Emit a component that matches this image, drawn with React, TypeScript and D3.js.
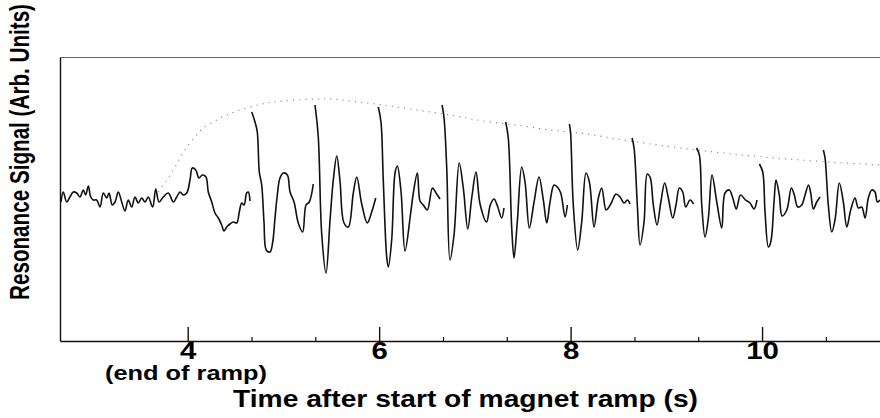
import React, { useEffect, useRef } from 'react';
import * as d3 from 'd3';

// time after start of magnet ramp (s) vs resonance signal (arb. units)
const timeDomain: [number, number] = [2.666, 11.232];
const signalDomain: [number, number] = [0, 284];

const majorTicks = [4, 6, 8, 10];
// small marks at each pulse (every 2/3 s)
const pulseTicks = [4.667, 5.333, 6.667, 7.333, 8.667, 9.333, 10.667];

// the trace is broken at every pulse, so it is kept as separate pieces
const signalSegments: [number, number][][] = [
  [[2.676,139],[2.700,149],[2.736,139],[2.770,144],[2.805,149],[2.840,148],[2.875,144],[2.909,151],[2.934,146],[2.962,155],[2.987,144],[3.014,141],[3.049,141],[3.084,134],[3.118,148],[3.154,143],[3.178,148],[3.212,136],[3.241,139],[3.275,149],[3.311,139],[3.345,130],[3.379,141],[3.415,134],[3.449,144],[3.484,138],[3.519,143],[3.554,139],[3.588,144],[3.634,134],[3.666,152],[3.700,139],[3.745,144],[3.797,148],[3.850,139],[3.885,144],[3.920,149],[3.954,146],[3.990,148],[4.024,161],[4.048,173],[4.084,171],[4.118,163],[4.153,166],[4.191,164],[4.215,149],[4.251,139],[4.285,128],[4.320,123],[4.355,116],[4.379,110],[4.407,114],[4.442,117],[4.476,119],[4.512,118],[4.539,129],[4.564,138],[4.588,136],[4.616,148],[4.633,149],[4.651,140]],
  [[4.669,229],[4.703,219],[4.727,209],[4.748,169],[4.773,156],[4.797,119],[4.821,91],[4.860,89],[4.888,99],[4.912,123],[4.936,146],[4.964,163],[4.999,168],[5.041,166],[5.069,149],[5.111,139],[5.155,118],[5.201,109],[5.236,136],[5.270,139],[5.312,157]],
  [[5.330,236],[5.364,204],[5.400,107],[5.445,68],[5.487,121],[5.521,161],[5.557,185],[5.591,160],[5.633,118],[5.678,114],[5.730,148],[5.766,164],[5.818,137],[5.876,118],[5.922,129],[5.964,143]],
  [[5.991,234],[6.019,219],[6.043,161],[6.079,84],[6.096,74],[6.131,101],[6.166,168],[6.190,175],[6.228,150],[6.270,90],[6.328,127],[6.357,148],[6.399,168],[6.427,140],[6.461,136],[6.503,131],[6.557,153],[6.594,148],[6.636,142]],
  [[6.657,236],[6.678,223],[6.706,173],[6.740,81],[6.782,106],[6.836,178],[6.879,153],[6.926,112],[6.967,143],[7.012,169],[7.054,137],[7.122,119],[7.161,136],[7.200,142],[7.236,135],[7.280,123],[7.304,133]],
  [[7.322,219],[7.349,203],[7.385,113],[7.409,83],[7.443,119],[7.489,174],[7.524,159],[7.569,113],[7.618,139],[7.670,164],[7.715,141],[7.751,118],[7.785,139],[7.827,156],[7.861,154],[7.897,148],[7.942,124],[7.966,136]],
  [[7.987,217],[7.999,209],[8.028,136],[8.074,91],[8.116,119],[8.161,168],[8.196,159],[8.245,114],[8.290,143],[8.325,153],[8.370,131],[8.394,133],[8.430,139],[8.474,147],[8.516,144],[8.558,138],[8.593,141],[8.621,137]],
  [[8.642,203],[8.663,193],[8.697,136],[8.725,96],[8.767,119],[8.801,167],[8.830,164],[8.864,136],[8.903,116],[8.941,138],[8.983,158],[9.021,143],[9.067,123],[9.101,136],[9.136,153],[9.171,149],[9.203,134],[9.248,141],[9.284,137]],
  [[9.315,193],[9.345,186],[9.370,136],[9.404,104],[9.439,123],[9.477,166],[9.527,139],[9.579,113],[9.613,148],[9.658,151],[9.694,143],[9.731,132],[9.775,146],[9.827,141],[9.874,138],[9.916,132],[9.947,141]],
  [[9.972,177],[10.007,169],[10.031,129],[10.066,94],[10.091,99],[10.125,139],[10.146,161],[10.180,146],[10.209,125],[10.258,131],[10.306,153],[10.337,146],[10.373,134],[10.414,136],[10.449,146],[10.485,156],[10.508,148],[10.536,132],[10.571,139],[10.606,144]],
  [[10.640,191],[10.658,183],[10.692,136],[10.728,109],[10.762,121],[10.807,158],[10.849,139],[10.885,114],[10.926,131],[10.971,143],[11.006,133],[11.041,134],[11.076,123],[11.110,143],[11.146,151],[11.180,149],[11.204,139],[11.232,141]],
];

// dotted envelope through the pulse maxima
const envelope: [number, number][] = [
  [3.693,149],[3.773,160],[3.850,171],[3.920,183],[3.990,194],[4.076,204],[4.163,213],[4.285,220],[4.407,226],[4.616,233],[4.825,238],[4.999,240],[5.348,242],[5.521,242],[5.696,240],[6.043,236],[6.392,231],[6.740,226],[7.088,220],[7.437,216],[7.785,211],[8.098,208],[8.621,200],[9.318,191],[10.013,184],[10.710,179],[11.232,176],
];

const FONT = '"Liberation Sans", Arial, Helvetica, sans-serif';

export default function App() {
  const ref = useRef<SVGSVGElement>(null);

  useEffect(() => {
    const w = 880;
    const h = 418;
    const m = { left: 60, right: 0, top: 57, bottom: 77 };

    const svg = d3.select(ref.current);
    svg.selectAll('*').remove();

    const x = d3.scaleLinear().domain(timeDomain).range([m.left, w - m.right]);
    const y = d3.scaleLinear().domain(signalDomain).range([h - m.bottom, m.top]);

    // frame: grey top line, black left line
    svg.append('g')
      .attr('transform', `translate(0,${m.top})`)
      .call(d3.axisTop(x).tickValues([]).tickSizeOuter(0))
      .select('.domain')
      .attr('stroke', '#666')
      .attr('stroke-width', 1);

    svg.append('g')
      .attr('transform', `translate(${m.left},0)`)
      .call(d3.axisLeft(y).tickValues([]).tickSizeOuter(0))
      .select('.domain')
      .attr('stroke', '#111')
      .attr('stroke-width', 1.4);

    // bottom axis, ticks pointing inward
    const xAxis = svg.append('g')
      .attr('transform', `translate(0,${h - m.bottom})`)
      .call(
        d3.axisBottom(x)
          .tickValues(majorTicks)
          .tickSize(-14)
          .tickSizeOuter(0)
          .tickPadding(2)
          .tickFormat(d3.format('d'))
      );
    xAxis.select('.domain').attr('stroke', '#111').attr('stroke-width', 1.4);
    xAxis.selectAll('.tick line').attr('stroke', '#111').attr('stroke-width', 1.4);
    xAxis.selectAll('.tick text')
      .attr('fill', '#000')
      .attr('font-family', FONT)
      .attr('font-weight', 'bold')
      .attr('font-size', 23)
      .attr('transform', 'scale(1.28,1)');

    const pulseAxis = svg.append('g')
      .attr('transform', `translate(0,${h - m.bottom})`)
      .call(d3.axisBottom(x).tickValues(pulseTicks).tickSize(-4).tickSizeOuter(0).tickFormat(() => ''));
    pulseAxis.select('.domain').remove();
    pulseAxis.selectAll('.tick line').attr('stroke', '#111').attr('stroke-width', 1.2);

    const line = d3.line<[number, number]>()
      .x(d => x(d[0]))
      .y(d => y(d[1]))
      .curve(d3.curveCatmullRom.alpha(0.5));

    svg.append('path')
      .datum(envelope)
      .attr('d', line)
      .attr('fill', 'none')
      .attr('stroke', '#888')
      .attr('stroke-width', 1.1)
      .attr('stroke-dasharray', '1.2 5');

    svg.selectAll('path.seg')
      .data(signalSegments)
      .enter()
      .append('path')
      .attr('class', 'seg')
      .attr('d', d => line(d))
      .attr('fill', 'none')
      .attr('stroke', '#111')
      .attr('stroke-width', 1.6)
      .attr('stroke-linejoin', 'round');

    // labels
    svg.append('text')
      .attr('x', 186)
      .attr('y', 380)
      .attr('text-anchor', 'middle')
      .attr('font-family', FONT)
      .attr('font-weight', 'bold')
      .attr('font-size', 20)
      .attr('textLength', 162)
      .attr('lengthAdjust', 'spacingAndGlyphs')
      .text('(end of ramp)');

    svg.append('text')
      .attr('x', 465.5)
      .attr('y', 407)
      .attr('text-anchor', 'middle')
      .attr('font-family', FONT)
      .attr('font-weight', 'bold')
      .attr('font-size', 24)
      .attr('textLength', 465)
      .attr('lengthAdjust', 'spacingAndGlyphs')
      .text('Time after start of magnet ramp (s)');

    svg.append('text')
      .attr('transform', 'translate(29,152) scale(1.3,1) rotate(-90)')
      .attr('text-anchor', 'middle')
      .attr('font-family', FONT)
      .attr('font-weight', 'bold')
      .attr('font-size', 21)
      .attr('textLength', 296)
      .attr('lengthAdjust', 'spacingAndGlyphs')
      .text('Resonance Signal (Arb. Units)');
  }, []);

  return (
    <svg
      ref={ref}
      width={880}
      height={418}
      style={{ position: 'absolute', left: 0, top: 0, background: '#fff' }}
    />
  );
}
